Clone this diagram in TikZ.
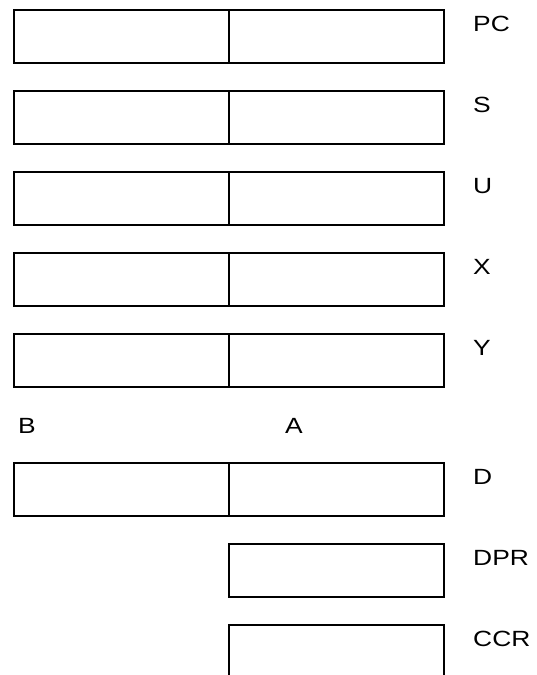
\documentclass[tikz,border=0pt]{standalone}
\usepackage{fontspec}
\setmainfont[FakeStretch=1.2]{Liberation Sans}
\begin{document}
\begin{tikzpicture}[x=1pt,y=-1pt,
  half/.style={draw=black, line width=1.7pt, rectangle, inner sep=0pt,
    minimum width=215pt, minimum height=53pt, anchor=north west},
  lbl/.style={anchor=base west, inner sep=0pt, font=\fontsize{22}{22}\selectfont}]
\useasboundingbox (0,0) rectangle (536,675);
\foreach \n/\t/\y in {pc/PC/9, s/S/90, u/U/171, x/X/252, y/Y/333, d/D/462} {
  \node[half] (\n l) at (13,\y) {};
  \node[half] (\n r) at (228,\y) {};
  \node[lbl] (\n t) at (473,\y+22.5) {\t};
}
\foreach \n/\t/\y in {dpr/DPR/543, ccr/CCR/624} {
  \node[half] (\n r) at (228,\y) {};
  \node[lbl] (\n t) at (473,\y+22.5) {\t};
}
\node[lbl] (b) at (18,433) {B};
\node[lbl] (a) at (285,433) {A};
\end{tikzpicture}
\end{document}
